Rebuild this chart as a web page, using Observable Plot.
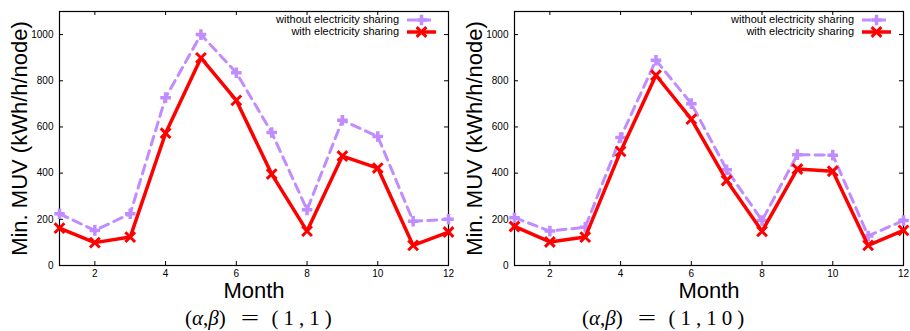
<!DOCTYPE html>
<html><head><meta charset="utf-8">
<script src="https://cdn.jsdelivr.net/npm/d3@7"></script>
<script src="https://cdn.jsdelivr.net/npm/@observablehq/plot@0.6"></script>
<style>
body{margin:0;background:#fff;}
#wrap{display:flex;width:910px;height:331px;}
.panel{position:relative;width:455px;height:331px;}
.panel svg{overflow:visible;display:block}
.cap{position:absolute;top:303px;font-family:"Liberation Serif",serif;font-size:21px;white-space:pre;line-height:31px;display:flex;align-items:center}
.cap .ab{display:inline-block}
.cap .ab i{font-style:italic}
.cap .eq{display:inline-block;transform:scaleX(1.55);margin:0 16px 0 18px}
.cap .num{display:inline-block;letter-spacing:5px}
</style></head><body><div id="wrap"></div>
<script>
const months = [1,2,3,4,5,6,7,8,9,10,11,12];
const seriesNames = ["without electricity sharing", "with electricity sharing"];
const without_1_1  = [224,152,224,727,1000,835,576,241,629,559,192,200];
const with_1_1     = [162, 99,123,573, 899,715,396,149,474,422, 87,145];
const without_1_10 = [207,149,166,554, 889,701,415,195,480,478,128,195];
const with_1_10    = [169,102,123,494, 824,634,368,148,418,408, 87,152];
const xTicks = [2,4,6,8,10,12];
const yTicks = [0,200,400,600,800,1000];
const yLabel = "Min. MUV (kWh/h/node)";
const xLabel = "Month";
const captionParams = ["(1,1)", "(1,10)"];

const purple = "#c08cff", red = "#ff0000";
const W = 455, H = 300, mL = 59, mR = 7, mT = 11, mB = 35;
const frameH = H - mT - mB, frameW = W - mL - mR;
const sans = "'Liberation Sans', Arial, sans-serif";

function panel(withoutVals, withVals, param, capLeft) {
  const dW = months.map((m, i) => ({month: m, value: withoutVals[i]}));
  const dS = months.map((m, i) => ({month: m, value: withVals[i]}));
  const legend = () => {
    const g = d3.create("svg:g").attr("font-family", sans).attr("font-size", 11);
    seriesNames.forEach((name, i) => {
      const y = 19.5 + i * 12;
      g.append("text").attr("x", W - mR - 49).attr("y", y).attr("dy", "0.35em")
        .attr("text-anchor", "end").attr("fill", "#000").text(name);
      const col = i ? red : purple;
      g.append("line").attr("x1", W - mR - 41).attr("x2", W - mR - 12)
        .attr("y1", y + 0.5).attr("y2", y + 0.5).attr("stroke", col)
        .attr("stroke-width", i ? 3.5 : 3).attr("stroke-dasharray", i ? null : "9,6");
      g.append("path").attr("d", d3.symbol(i ? d3.symbolTimes : d3.symbolPlus, i ? Math.PI*4.5*4.5 : Math.PI*3.5*3.5)())
        .attr("transform", `translate(${W - mR - 26.5},${y + 0.5})`)
        .attr("fill", "none").attr("stroke", col).attr("stroke-width", i ? 3 : 3.5);
    });
    return g.node();
  };
  const chart = Plot.plot({
    width: W, height: H, marginLeft: mL, marginRight: mR, marginTop: mT, marginBottom: mB,
    style: {fontFamily: sans, fontSize: "10px", color: "#000", background: "transparent", overflow: "visible"},
    x: {domain: [1, 12]},
    y: {domain: [0, 1100]},
    marks: [
      Plot.tickX(xTicks, {x: d => d, insetTop: frameH - 4, stroke: "#000"}),
      Plot.tickX(xTicks, {x: d => d, insetBottom: frameH - 4, stroke: "#000"}),
      Plot.tickY(yTicks, {y: d => d, insetRight: frameW - 4, stroke: "#000"}),
      Plot.tickY(yTicks, {y: d => d, insetLeft: frameW - 4, stroke: "#000"}),
      Plot.frame({stroke: "#000", strokeWidth: 1.2}),
      Plot.axisX({ticks: xTicks, tickSize: 0, tickPadding: 4, label: null, tickFormat: d => String(d)}),
      Plot.axisY({ticks: yTicks, tickSize: 0, tickPadding: 6, label: null, tickFormat: d => String(d)}),
      Plot.line(dW, {x: "month", y: "value", stroke: purple, strokeWidth: 3, strokeDasharray: "9,6"}),
      Plot.dot(dW, {x: "month", y: "value", symbol: "plus", r: 3.5, stroke: purple, strokeWidth: 3.5}),
      Plot.line(dS, {x: "month", y: "value", stroke: red, strokeWidth: 3.5}),
      Plot.dot(dS, {x: "month", y: "value", symbol: "times", r: 4.5, stroke: red, strokeWidth: 3}),
      Plot.text([xLabel], {text: d => d, frameAnchor: "bottom", lineAnchor: "middle", textAnchor: "middle", dy: 25, fontSize: 22, fill: "#000"}),
      Plot.text([yLabel], {text: d => d, frameAnchor: "left", textAnchor: "middle", lineAnchor: "middle", dx: -40, rotate: -90, fontSize: 22, fill: "#000"}),
      legend
    ]
  });
  const div = document.createElement("div");
  div.className = "panel";
  div.appendChild(chart);
  const c = document.createElement("div");
  c.className = "cap";
  c.style.left = capLeft + "px";
  c.innerHTML = `<span class="ab">(<i>α</i>,<i>β</i>)</span><span class="eq">=</span><span class="num">${param}</span>`;
  div.appendChild(c);
  return div;
}
const wrap = document.getElementById("wrap");
wrap.appendChild(panel(without_1_1, with_1_1, captionParams[0], 185));
wrap.appendChild(panel(without_1_10, with_1_10, captionParams[1], 127));
</script></body></html>
